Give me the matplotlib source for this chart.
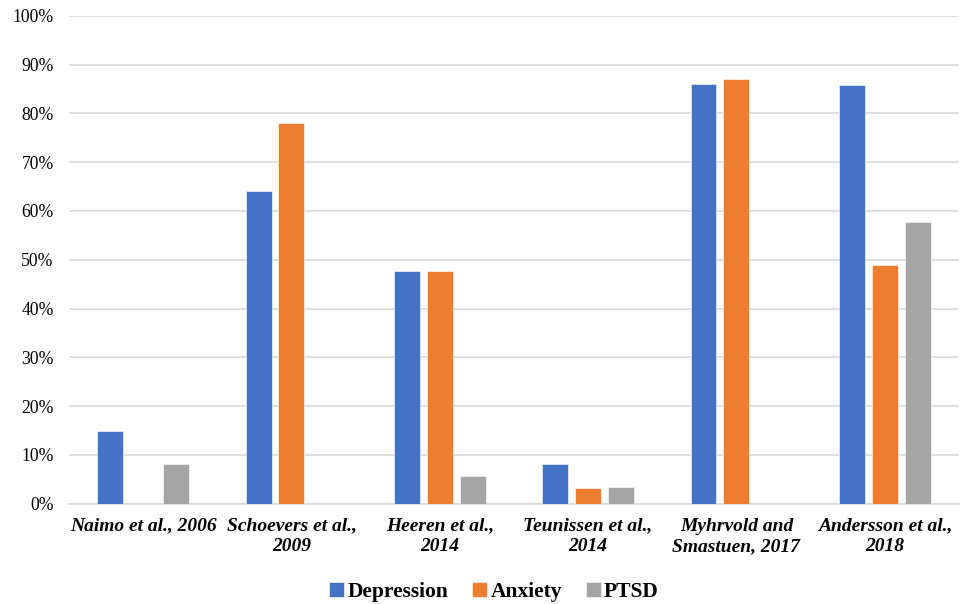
import numpy as np
import matplotlib
matplotlib.use('Agg')
import matplotlib.pyplot as plt

studies = ['Naimo et al., 2006', 'Schoevers et al.,\n2009', 'Heeren et al.,\n2014',
           'Teunissen et al.,\n2014', 'Myhrvold and\nSmastuen, 2017', 'Andersson et al.,\n2018']
depression = [15.0, 64.0, 47.6, 8.1, 86.1, 85.7]
anxiety = [np.nan, 78.0, 47.6, 3.2, 87.1, 48.9]
ptsd = [8.1, np.nan, 5.7, 3.4, np.nan, 57.7]

series = [('Depression', depression, '#4472C4'),
          ('Anxiety', anxiety, '#ED7D31'),
          ('PTSD', ptsd, '#A5A5A5')]

plt.rcParams['font.family'] = ['Liberation Serif', 'DejaVu Serif']

fig = plt.figure(figsize=(9.61, 6.04), dpi=100)
ax = fig.add_axes([0.0718, 0.166, 0.926, 0.808])

x = np.arange(len(studies))
w = 0.175
step = 0.222
for k, (name, vals, col) in enumerate(series):
    ax.bar(x + (k - 1) * step, vals, w, color=col, label=name,
           edgecolor='white', linewidth=0.4, zorder=3)

ax.set_xlim(-0.5, len(studies) - 0.5)
ax.set_ylim(0, 100)
ax.set_yticks(np.arange(0, 101, 10))
ax.set_yticklabels([f'{v}%' for v in range(0, 101, 10)], fontsize=12.7)
ax.set_xticks(x)
ax.set_xticklabels(studies, fontsize=14, fontweight='bold', fontstyle='italic',
                   linespacing=1.25)
ax.tick_params(axis='y', length=0, pad=11)
ax.tick_params(axis='x', length=0, pad=10)
ax.grid(axis='y', color='#d9d9d9', linewidth=1.2, zorder=0)
for s in ['top', 'right', 'left']:
    ax.spines[s].set_visible(False)
ax.spines['bottom'].set_color('#d9d9d9')
ax.spines['bottom'].set_linewidth(1.2)

fig.legend(loc='center', bbox_to_anchor=(0.514, 0.02), ncol=3, frameon=False,
           prop={'size': 15.5, 'weight': 'bold'}, handlelength=0.7, handleheight=0.7,
           handletextpad=0.15, columnspacing=1.1, borderaxespad=0)

fig.savefig('out.png', dpi=100)
